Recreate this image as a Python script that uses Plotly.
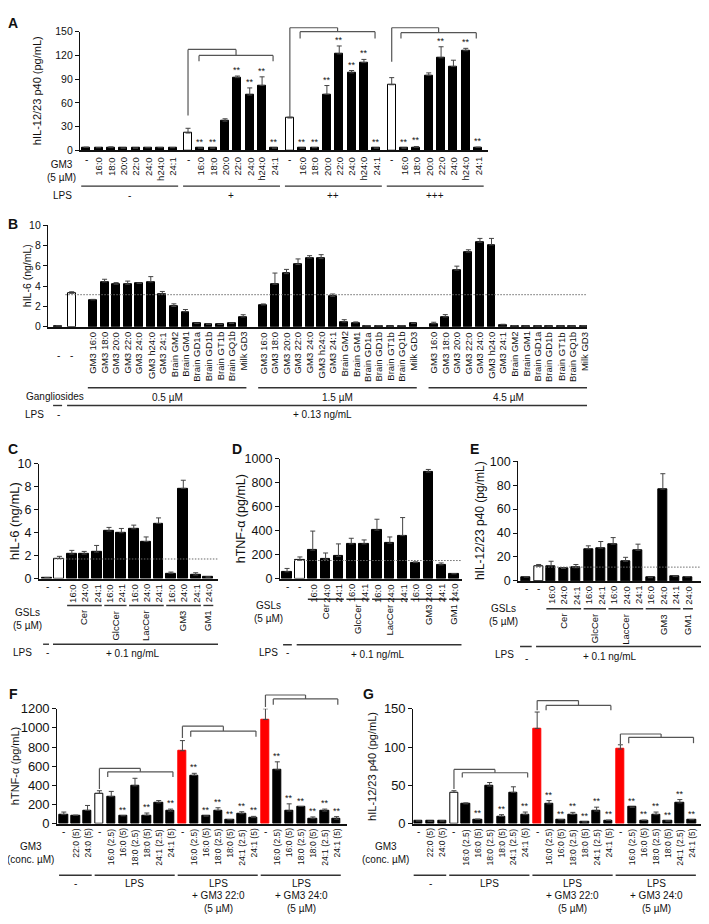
import plotly.graph_objects as go

# The page body has an 8 px margin, so the figure is made 8 px smaller and every
# page position below is shifted by that margin.
PAGE_W, PAGE_H, OFF = 709, 924, 8
W, H = PAGE_W - OFF, PAGE_H - OFF
FONT = "Liberation Sans, Arial, Helvetica, sans-serif"
INK = "#111111"
LINE = "#333333"

# ------------------------------------------------------------------ data
# Panel A  (hIL-12/23 p40, pg/mL)
A_gm3 = ["-", "16:0", "18:0", "20:0", "22:0", "24:0", "h24:0", "24:1"]
A_lps = ["-", "+", "++", "+++"]
A_val0 = [4, 3.5, 3.5, 3, 3, 3.5, 3.5, 3.5]
A_val1 = [22, 3, 3, 37, 92, 70, 82, 3]
A_val2 = [41, 3, 3.5, 71, 122, 98, 111, 3]
A_val3 = [83, 3, 4, 95, 117, 106, 126, 4]
A_err0 = [0, 0, 1, 0, 0, 0, 0, 0]
A_err1 = [6, 0, 0, 3, 2, 9, 11, 0]
A_err2 = [1, 0, 0, 11, 10, 3, 4, 0]
A_err3 = [9, 0, 1, 3, 14, 8, 3, 0]
A_sig0 = [0, 0, 0, 0, 0, 0, 0, 0]
A_sig1 = [0, 1, 1, 0, 1, 1, 1, 1]
A_sig2 = [0, 1, 1, 1, 1, 1, 1, 1]
A_sig3 = [0, 1, 1, 0, 1, 0, 1, 1]
A_yticks = [0, 30, 60, 90, 120, 150]

# Panel B  (hIL-6, ng/mL)
B_names = ["GM3 16:0", "GM3 18:0", "GM3 20:0", "GM3 22:0", "GM3 24:0", "GM3 h24:0", "GM3 24:1",
           "Brain GM2", "Brain GM1", "Brain GD1a", "Brain GD1b", "Brain GT1b", "Brain GQ1b", "Milk GD3"]
B_conc = ["0.5 µM", "1.5 µM", "4.5 µM"]
B_ctrl = [0.1, 3.3]
B_ctrl_err = [0, 0.15]
B_v05 = [2.65, 4.42, 4.19, 4.19, 4.26, 4.42, 3.23, 2.0, 1.48, 0.32, 0.26, 0.23, 0.35, 0.97]
B_e05 = [0.05, 0.26, 0.16, 0.31, 0.04, 0.52, 0.25, 0.26, 0.22, 0, 0, 0, 0, 0.22]
B_v15 = [2.15, 4.19, 5.23, 6.13, 6.77, 6.71, 3.0, 0.48, 0.39, 0.1, 0.1, 0.05, 0.1, 0.32]
B_e15 = [0.1, 1.1, 0.42, 0.55, 0.23, 0.39, 0.23, 0.22, 0.09, 0, 0, 0, 0, 0.04]
B_v45 = [0.3, 0.97, 5.58, 7.35, 8.32, 8.06, 0.2, 0.1, 0.06, 0.06, 0.05, 0.06, 0.06, 0.1]
B_e45 = [0.15, 0.23, 0.39, 0.23, 0.38, 0.64, 0.05, 0, 0, 0, 0, 0, 0, 0]
B_ref = 3.16
B_yticks = [0, 2, 4, 6, 8, 10]

# Panels C, D, E (GSLs 5 µM, LPS 0.1 ng/mL)
CDE_labels = ["-", "-", "16:0", "24:0", "24:1", "16:0", "24:1", "16:0", "24:0", "24:1",
              "16:0", "24:0", "24:1", "24:0"]
CDE_groups = ["Cer", "GlcCer", "LacCer", "GM3", "GM1"]
CDE_group_first = [2, 5, 7, 10, 13]
CDE_group_last = [4, 6, 9, 12, 13]
C_val = [0.1, 1.74, 2.14, 2.14, 2.31, 4.14, 4.0, 4.34, 3.23, 4.8, 0.46, 7.86, 0.31, 0.14]
C_err = [0, 0.2, 0.32, 0.23, 0.58, 0.32, 0.37, 0.32, 0.4, 0.49, 0.11, 0.71, 0.2, 0]
C_ref = 1.71
C_yticks = [0, 2, 4, 6, 8, 10]
D_val = [57, 153, 238, 162, 186, 290, 290, 405, 296, 359, 134, 890, 115, 41]
D_err = [28, 28, 159, 52, 104, 47, 33, 91, 52, 151, 6, 22, 16, 0]
D_ref = 151
D_yticks = [0, 200, 400, 600, 800, 1000]
E_val = [3.3, 12.3, 12.6, 10.4, 11, 26.8, 27.4, 30.7, 16.4, 25.5, 2.7, 76.7, 3.6, 3.3]
E_err = [0, 1.4, 3.8, 0, 2.7, 2.5, 5.5, 5.5, 3.3, 5.2, 0, 12.9, 0.5, 0.3]
E_ref = 11.5
E_yticks = [0, 20, 40, 60, 80, 100]

# Panels F, G
FG_labels = ["-", "22:0 (5)", "24:0 (5)",
             "-", "16:0 (2.5)", "16:0 (5)", "18:0 (2.5)", "18:0 (5)", "24:1 (2.5)", "24:1 (5)",
             "-", "16:0 (2.5)", "16:0 (5)", "18:0 (2.5)", "18:0 (5)", "24:1 (2.5)", "24:1 (5)",
             "-", "16:0 (2.5)", "16:0 (5)", "18:0 (2.5)", "18:0 (5)", "24:1 (2.5)", "24:1 (5)"]
FG_kind = ["k", "k", "k", "w", "k", "k", "k", "k", "k", "k",
           "r", "k", "k", "k", "k", "k", "k", "r", "k", "k", "k", "k", "k", "k"]
FG_group_first = [0, 3, 10, 17]
FG_group_last = [2, 9, 16, 23]
FG_group_text = [["-"], ["LPS"], ["LPS", "+ GM3 22:0", "(5 µM)"], ["LPS", "+ GM3 24:0", "(5 µM)"]]
FG_sig = [0, 0, 0, 0, 0, 1, 0, 1, 0, 1, 0, 1, 1, 1, 1, 1, 1, 0, 1, 1, 1, 1, 1, 1]
F_val = [93, 86, 137, 315, 281, 82, 394, 86, 216, 130, 761, 504, 79, 137, 41, 103, 62,
         1087, 562, 130, 178, 51, 130, 45]
F_err = [27, 0, 52, 28, 55, 0, 79, 24, 24, 21, 106, 21, 0, 28, 0, 20, 13,
         113, 83, 76, 0, 18, 21, 27]
F_yticks = [0, 200, 400, 600, 800, 1000, 1200]
G_val = [3.4, 3.0, 3.4, 40.7, 25.7, 5.6, 48.9, 9.4, 40.7, 11.6, 124.3, 25.7, 5.1, 12, 2.1, 16.3, 4.3,
         97.3, 21.4, 4.3, 11.6, 3.4, 27, 5.1]
G_err = [0, 0, 0, 2.2, 1.3, 0, 4.7, 2.2, 7.3, 3.4, 21.4, 4.3, 0, 2.6, 0, 5.1, 0,
         5.6, 0, 0, 3.4, 0, 4.3, 0]
G_yticks = [0, 50, 100, 150]

# significance brackets: control x, start y, top y, inner level y, drop y, inner x0, inner x1
A_br = [(8.25, 44, 127.6, 120, 112.7, 9.14, 15.14),
        (16.5, 42, 155, 150, 141.3, 17.33, 23.4),
        (24.75, 112, 155, 148.8, 141.3, 25.5, 31.6)]
F_br = [(3, 360, 576, 541, 487, 3.7, 9.2),
        (10, 894, 1018, 967, 908, 10.7, 16.2),
        (17, 1217, 1344, 1303, 1241, 17.66, 23.1)]
G_br = [(3, 45, 70.7, 66.4, 60, 3.7, 9.2),
        (10, 148, 160.7, 154.3, 147.9, 10.75, 16.2),
        (17, 104, 117, 112.7, 105, 17.7, 23.15)]

# ------------------------------------------------------------------ helpers
def fx(p):
    return (p - OFF) / W


def fy(p):
    return 1 - (p - OFF) / H


fig = go.Figure()
axes = {}
ann = []
shp = []


def names(k):
    return ("x" if k == 1 else "x%d" % k), ("y" if k == 1 else "y%d" % k)


def text(t, x, y, xref="paper", yref="paper", size=10, xa="center", ya="middle", angle=0):
    ann.append(dict(text=t, x=x, y=y, xref=xref, yref=yref, showarrow=False, xanchor=xa,
                    yanchor=ya, textangle=angle, borderpad=0,
                    font=dict(size=size, color=INK, family=FONT)))


def panel(k, xs, vals, errs, colors, lines, bw, xr, xpx, y0px, ytpx, ymax, yticks, ttext,
          tfs, ytfs, label_top):
    xn, yn = names(k)
    fig.add_trace(go.Bar(
        x=xs, y=vals, width=bw, xaxis=xn, yaxis=yn, showlegend=False, hoverinfo="skip",
        marker=dict(color=colors, line=dict(color=lines, width=1)),
        error_y=dict(type="data", symmetric=False, array=errs, arrayminus=[0] * len(errs),
                     color="#444444", thickness=1, width=2.5)))
    suf = "" if k == 1 else str(k)
    axes["xaxis" + suf] = dict(
        domain=[fx(xpx[0]), fx(xpx[1])], range=xr, anchor=yn, showline=True, linecolor=INK,
        linewidth=1.5, ticks="", showticklabels=False, showgrid=False, zeroline=False)
    axes["yaxis" + suf] = dict(
        domain=[fy(y0px), fy(ytpx)], range=[0, ymax], anchor=xn, showline=True, linecolor=INK,
        linewidth=1.2, ticks="outside", ticklen=4, tickwidth=1, tickcolor=INK, tickvals=yticks,
        tickfont=dict(size=ytfs, color=INK, family=FONT), showgrid=False, zeroline=False)
    # category labels below the axis, rotated, reading upwards
    for x, t in zip(xs, ttext):
        if t == "-":
            text("-", x, fy(label_top + 4), xref=xn, size=10)
        elif t:
            text(t, x, fy(label_top), xref=xn, size=tfs, ya="top", angle=-90)


def hline(xref, x0, x1, ypx, width=1.4, color=LINE):
    shp.append(dict(type="line", xref=xref, yref="paper", x0=x0, x1=x1, y0=fy(ypx), y1=fy(ypx),
                    line=dict(color=color, width=width)))


def refline(k, y, x0, x1):
    xn, yn = names(k)
    shp.append(dict(type="line", xref=xn, yref=yn, x0=x0, x1=x1, y0=y, y1=y,
                    line=dict(color="#6a6a6a", width=1, dash="1.5px,1.5px")))


def brackets(k, br, ymax):
    xn, yn = names(k)
    yd = yn + " domain"
    for (cx, ys, yt, yl, ydr, ix0, ix1) in br:
        mid = (ix0 + ix1) / 2
        segs = [(cx, ys, cx, yt), (cx, yt, mid, yt), (mid, yt, mid, yl),
                (ix0, yl, ix1, yl), (ix0, yl, ix0, ydr), (ix1, yl, ix1, ydr)]
        for (a, b, c, d) in segs:
            shp.append(dict(type="line", xref=xn, yref=yd, x0=a, x1=c, y0=b / ymax, y1=d / ymax,
                            line=dict(color="#555555", width=1.2)))


def stars(k, xs, vals, errs, sig, size=9):
    xn, yn = names(k)
    for x, v, e, s in zip(xs, vals, errs, sig):
        if s:
            text("**", x, v + e, xref=xn, yref=yn, size=size, ya="bottom")


def letter(t, xp, yp):
    text("<b>%s</b>" % t, fx(max(xp, OFF + 5)), fy(max(yp, OFF + 8)), size=14)


# ------------------------------------------------------------------ panel A
A_vals = [A_val0, A_val1, A_val2, A_val3]
A_errs = [A_err0, A_err1, A_err2, A_err3]
A_sigs = [A_sig0, A_sig1, A_sig2, A_sig3]
ax_, av_, ae_, as_, ac_, at_ = [], [], [], [], [], []
for g in range(4):
    for i in range(8):
        ax_.append(g * 8.25 + i)
        av_.append(A_vals[g][i])
        ae_.append(A_errs[g][i])
        as_.append(A_sigs[g][i])
        ac_.append("white" if (g > 0 and i == 0) else "black")
        at_.append(A_gm3[i])
panel(1, ax_, av_, ae_, ac_, ["black"] * 32, 0.65, [-0.5, 32.55], (80, 488), 145.7, 25.0, 150,
      A_yticks, at_, 9.5, 10.5, 151)
stars(1, ax_, av_, ae_, as_)
brackets(1, A_br, 150)
for g in range(4):
    hline("x", g * 8.25 - 0.4, g * 8.25 + 7.45, 182)
    text(A_lps[g], g * 8.25 + 3.5, fy(191), xref="x", size=10)
text("GM3<br>(5 µM)", fx(62), fy(167), size=10)
text("LPS", fx(63), fy(192), size=10)
text("hIL-12/23 p40 (pg/mL)", fx(37), fy(85.4), size=11, angle=-90)
letter("A", 7, 10)

# ------------------------------------------------------------------ panel B
bx_ = [-3.0, -1.85]
bv_ = list(B_ctrl)
be_ = list(B_ctrl_err)
bc_ = ["black", "white"]
bt_ = ["", ""]
for g, (vv, ee) in enumerate([(B_v05, B_e05), (B_v15, B_e15), (B_v45, B_e45)]):
    for i in range(14):
        bx_.append(g * 14.75 + i)
        bv_.append(vv[i])
        be_.append(ee[i])
        bc_.append("black")
        bt_.append(B_names[i])
panel(2, bx_, bv_, be_, bc_, ["black"] * len(bx_), 0.68, [-3.9, 42.77], (48, 587), 325, 221.7, 10,
      B_yticks, bt_, 9.5, 10.5, 329)
refline(2, B_ref, -2.4, 42.77)
text("-", -3.0, fy(354), xref="x2", size=10)
text("-", -1.85, fy(354), xref="x2", size=10)
for g in range(3):
    hline("x2", g * 14.75 - 0.45, g * 14.75 + 13.28, 387)
    text(B_conc[g], g * 14.75 + 6.45, fy(397), xref="x2", size=10)
text("Gangliosides", fx(55), fy(396), size=10)
hline("x2", -3.46, -2.68, 405)
hline("x2", -2.25, 42.77, 405)
text("LPS", fx(34), fy(414), size=10)
text("-", -3.0, fy(414), xref="x2", size=10)
text("+ 0.13 ng/mL", fx(322), fy(414), size=10)
text("hIL-6 (ng/mL)", fx(26.5), fy(273), size=10.5, angle=-90)
letter("B", 9, 220)

# ------------------------------------------------------------------ panels C, D, E
cde_x = list(range(14))
cde_c = ["black", "white"] + ["black"] * 12
cde_specs = [
    # k, vals, errs, ref, yticks, ymax, bw, xr, xpx, y0, ytop, title, tx, tsize, letter, lx,
    # label_top, grp_y, gsls_x, gsls_y, lps_y, short, long0, lps_x, lpsdash_y, lpstxt_x, lpstxt_y
    (3, C_val, C_err, C_ref, C_yticks, 10, 0.8, [-0.65, 13.8], (39, 218), 581, 464.3,
     "hIL-6 (ng/mL)", 14, 13, "C", 9, 585, 608.3, 27, 622, 647.7, (-0.32, 0.16), 0.48, 22, 655, 133, 657),
    (4, D_val, D_err, D_ref, D_yticks, 1000, 0.72, [-0.55, 13.6], (280, 461.7), 581, 459.3,
     "hTNF-α (pg/mL)", 240.5, 12.5, "D", 237, 585, 602, 268.5, 615, 648.3, (-0.31, 0.37), 0.75, 268, 655, 378, 658),
    (5, E_val, E_err, E_ref, E_yticks, 100, 0.72, [-0.64, 14.13], (518.3, 701.7), 583.3, 461.7,
     "hIL-12/23 p40 (pg/mL)", 480, 12, "E", 475, 587, 611.7, 503, 618, 650, (-0.5, 0.44), 0.79, 504, 661, 610, 660),
]
for (k, vals, errs, ref, yt, ymax, bw, xr, xpx, y0, ytop, title, tx, tsz, let, lx,
     label_top, grp_y, gx, gy, lps_y, short, long0, lpsx, lpsdash_y, lptx, lpty) in cde_specs:
    xn, yn = names(k)
    panel(k, cde_x, vals, errs, cde_c, ["black"] * 14, bw, xr, xpx, y0, ytop, ymax, yt,
          CDE_labels, 9.5, 12.5, label_top)
    refline(k, ref, 0.55, xr[1] + 0.2)
    for name, a, b in zip(CDE_groups, CDE_group_first, CDE_group_last):
        hline(xn, a - 0.38, min(b + 0.42, xr[1]), grp_y)
        text(name, (a + b) / 2, fy(grp_y + 4), xref=xn, size=9.5, ya="top", angle=-90)
    text("GSLs<br>(5 µM)", fx(gx), fy(gy), size=10)
    hline(xn, short[0], short[1], lps_y)
    hline(xn, long0, xr[1], lps_y)
    text("LPS", fx(lpsx), fy(lps_y + 8), size=10)
    text("-", 0, fy(lpsdash_y + 1), xref=xn, size=10)
    text("+ 0.1 ng/mL", fx(lptx), fy(lpty), size=10)
    text(title, fx(tx), fy((y0 + ytop) / 2), size=tsz, angle=-90)
    letter(let, lx, 449)

# ------------------------------------------------------------------ panels F, G
fg_x = list(range(24))
fg_c = [{"k": "black", "w": "white", "r": "#ff0000"}[t] for t in FG_kind]
fg_l = [{"k": "black", "w": "black", "r": "#ff0000"}[t] for t in FG_kind]
fg_specs = [
    (6, F_val, F_err, F_br, F_yticks, 1200, [-0.55, 23.85], (57.3, 346.7), "hTNF-α (pg/mL)", 15,
     "F", 7, 54),
    (7, G_val, G_err, G_br, G_yticks, 150, [-0.42, 23.84], (413.3, 701.7),
     "hIL-12/23 p40 (pg/mL)", 371.7, "G", 368, 408.5),
]
row_y = [890.5, 903.5, 916.5]
for (k, vals, errs, br, yt, ymax, xr, xpx, title, tx, let, lx, gm3x) in fg_specs:
    xn, yn = names(k)
    panel(k, fg_x, vals, errs, fg_c, fg_l, 0.7, xr, xpx, 830, 713.3, ymax, yt, FG_labels, 8.5, 13,
          834)
    stars(k, fg_x, vals, errs, FG_sig)
    brackets(k, br, ymax)
    for a, b, lines in zip(FG_group_first, FG_group_last, FG_group_text):
        hline(xn, a - 0.4, b + 0.35, 882.5)
        for j, t in enumerate(lines):
            text(t, (a + b) / 2, fy(row_y[j]), xref=xn, size=10)
    text("GM3<br>(conc. µM)", fx(gm3x + 1), fy(860), size=10, xa="right")
    text(title, fx(tx), fy(771.7), size=11, angle=-90)
    letter(let, lx, 698)

fig.update_layout(
    width=W, height=H, margin=dict(l=0, r=0, t=0, b=0),
    paper_bgcolor="white", plot_bgcolor="rgba(0,0,0,0)",
    font=dict(family=FONT, color=INK, size=10),
    bargap=0, annotations=ann, shapes=shp, **axes)

fig.write_html("out.html")
